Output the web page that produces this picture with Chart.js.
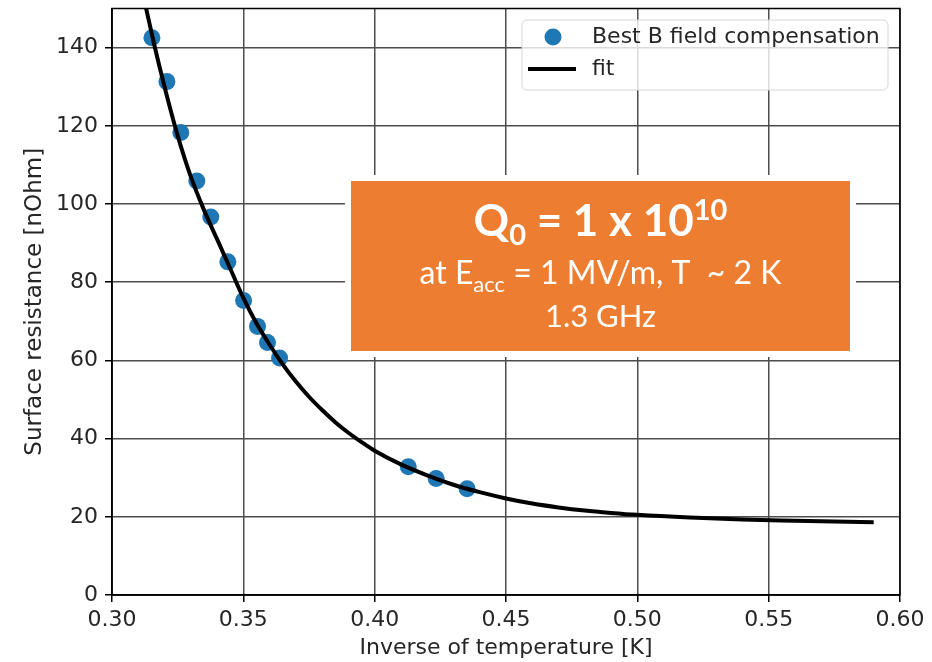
<!DOCTYPE html>
<html>
<head>
<meta charset="utf-8">
<script src="https://cdn.jsdelivr.net/npm/chart.js@4.4.1/dist/chart.umd.min.js"></script>
<style>
  html, body { margin: 0; padding: 0; background: #fff; }
  #wrap { width: 932px; height: 662px; }
</style>
</head>
<body>
<div id="wrap"><canvas id="myChart" width="932" height="662"></canvas></div>
<script>
// measured surface resistance vs 1/T
const invTemp = [0.3152, 0.3209, 0.3262, 0.3323, 0.3376, 0.3441, 0.3501, 0.3554, 0.3592, 0.3638, 0.4128, 0.4234, 0.4352]
const resistance = [142.5, 131.3, 118.3, 105.9, 96.7, 85.2, 75.3, 68.7, 64.6, 60.6, 32.8, 29.8, 27.2]

// fit curve
const fitInvTemp = [0.313, 0.316, 0.320, 0.325, 0.330, 0.335, 0.340, 0.345, 0.350, 0.355, 0.360, 0.365, 0.370, 0.375, 0.380, 0.385, 0.390, 0.395, 0.400, 0.410, 0.420, 0.430, 0.440, 0.450, 0.460, 0.470, 0.480, 0.490, 0.500, 0.520, 0.540, 0.560, 0.590]
const fitRes = [150, 141, 130, 117.5, 107, 98.5, 91, 83.5, 76, 69.5, 64, 59, 54.6, 50.7, 47.3, 44.2, 41.5, 39.1, 36.9, 33.4, 30.6, 28.2, 26.3, 24.7, 23.4, 22.4, 21.6, 21.0, 20.5, 19.8, 19.3, 19.0, 18.6]

const xTicks = [0.30, 0.35, 0.40, 0.45, 0.50, 0.55, 0.60]
const yTicks = [0, 20, 40, 60, 80, 100, 120, 140]

const axisFont = "'DejaVu Sans', sans-serif"
const boxFont = "Lato, 'Open Sans', sans-serif"
const orange = '#ED7D31'
const gridColor = '#4d4d4d'

// frame, legend and the Q0 label box
const overlay = {
    id: 'overlay',
    afterDraw(chart) {
        const ctx = chart.ctx
        const a = chart.chartArea
        ctx.save()

        // full frame round the plot
        ctx.strokeStyle = '#000'
        ctx.lineWidth = 1.5
        ctx.strokeRect(a.left, a.top, a.right - a.left, a.bottom - a.top)

        // legend
        const lx = 522, ly = 20, lw = 366, lh = 70
        ctx.beginPath()
        ctx.roundRect(lx, ly, lw, lh, 5)
        ctx.fillStyle = 'rgba(255,255,255,0.8)'
        ctx.fill()
        ctx.strokeStyle = '#d6d6d6'
        ctx.lineWidth = 1
        ctx.stroke()

        const ds = chart.data.datasets
        ctx.font = `22px ${axisFont}`
        ctx.textBaseline = 'middle'
        ctx.textAlign = 'left'
        // scatter entry
        ctx.beginPath()
        ctx.arc(553, 37, 8.5, 0, Math.PI * 2)
        ctx.fillStyle = ds[0].backgroundColor
        ctx.fill()
        ctx.fillStyle = '#262626'
        ctx.fillText(ds[0].label, 592, 37)
        // line entry
        ctx.beginPath()
        ctx.moveTo(528, 69)
        ctx.lineTo(576, 69)
        ctx.strokeStyle = ds[1].borderColor
        ctx.lineWidth = 4
        ctx.stroke()
        ctx.fillText(ds[1].label, 592, 69)

        // orange label box with a white margin
        ctx.fillStyle = '#fff'
        ctx.fillRect(345, 175, 511, 182)
        ctx.fillStyle = orange
        ctx.fillRect(351, 181, 499, 170)

        ctx.fillStyle = '#fff'
        ctx.textBaseline = 'alphabetic'
        const cx = 600.5

        // line 1: Q0 = 1 x 10^10
        const parts1 = [
            { t: 'Q', f: `bold 44px ${boxFont}`, dy: 0 },
            { t: '0', f: `bold 29px ${boxFont}`, dy: 9 },
            { t: ' = 1 x 10', f: `bold 44px ${boxFont}`, dy: 0 },
            { t: '10', f: `bold 29px ${boxFont}`, dy: -16 }
        ]
        drawParts(ctx, parts1, cx, 236)

        // line 2: at Eacc = 1 MV/m, T ~ 2 K
        const parts2 = [
            { t: 'at E', f: `32px ${boxFont}`, dy: 0 },
            { t: 'acc', f: `22px ${boxFont}`, dy: 8 },
            { t: ' = 1 MV/m, T  ~ 2 K', f: `32px ${boxFont}`, dy: 0 }
        ]
        drawParts(ctx, parts2, cx, 284)

        ctx.font = `31px ${boxFont}`
        ctx.textAlign = 'center'
        ctx.fillText('1.3 GHz', cx, 327)

        ctx.restore()
    }
}

function drawParts(ctx, parts, cx, base) {
    let total = 0
    parts.forEach(p => {
        ctx.font = p.f
        p.w = ctx.measureText(p.t).width
        total += p.w
    })
    let x = cx - total / 2
    ctx.textAlign = 'left'
    parts.forEach(p => {
        ctx.font = p.f
        ctx.fillText(p.t, x, base + p.dy)
        x += p.w
    })
}

const config = {
    data: {
        datasets: [{
            type: 'scatter',
            label: 'Best B field compensation',
            data: invTemp.map((x, i) => ({ x: x, y: resistance[i] })),
            backgroundColor: '#1f77b4',
            borderWidth: 0,
            pointRadius: 8.5,
            order: 2
        }, {
            type: 'line',
            label: 'fit',
            data: fitInvTemp.map((x, i) => ({ x: x, y: fitRes[i] })),
            borderColor: '#000',
            borderWidth: 4,
            pointRadius: 0,
            cubicInterpolationMode: 'monotone',
            fill: false,
            order: 1
        }]
    },
    options: {
        responsive: false,
        animation: false,
        layout: {
            padding: { top: 7, right: 32, left: 0, bottom: 0 }
        },
        plugins: {
            legend: { display: false },
            tooltip: { enabled: false }
        },
        scales: {
            x: {
                type: 'linear',
                min: 0.30,
                max: 0.60,
                afterBuildTicks: scale => {
                    scale.ticks = xTicks.map(v => ({ value: v }))
                },
                afterFit: scale => {
                    scale.height = 67
                    scale.paddingLeft = 0
                    scale.paddingRight = 0
                },
                ticks: {
                    color: '#262626',
                    font: { family: axisFont, size: 22 },
                    padding: 5,
                    maxRotation: 0,
                    callback: v => v.toFixed(2)
                },
                grid: {
                    color: gridColor,
                    lineWidth: 1.5,
                    tickColor: '#000',
                    tickLength: 7
                },
                border: { color: '#000', width: 1.5 },
                title: {
                    display: true,
                    text: 'Inverse of temperature [K]',
                    color: '#262626',
                    font: { family: axisFont, size: 22 },
                    padding: { top: 0, bottom: 1 }
                }
            },
            y: {
                min: 0,
                max: 150,
                afterBuildTicks: scale => {
                    scale.ticks = yTicks.map(v => ({ value: v }))
                },
                afterFit: scale => {
                    scale.width = 112
                    scale.paddingTop = 0
                    scale.paddingBottom = 0
                },
                ticks: {
                    color: '#262626',
                    font: { family: axisFont, size: 22 },
                    padding: 7
                },
                grid: {
                    color: gridColor,
                    lineWidth: 1.5,
                    tickColor: '#000',
                    tickLength: 7
                },
                border: { color: '#000', width: 1.5 },
                title: {
                    display: true,
                    text: 'Surface resistance [nOhm]',
                    color: '#262626',
                    font: { family: axisFont, size: 23 },
                    padding: { top: 21, bottom: 0 }
                }
            }
        }
    },
    plugins: [overlay]
}

new Chart(document.getElementById('myChart'), config)
</script>
</body>
</html>
